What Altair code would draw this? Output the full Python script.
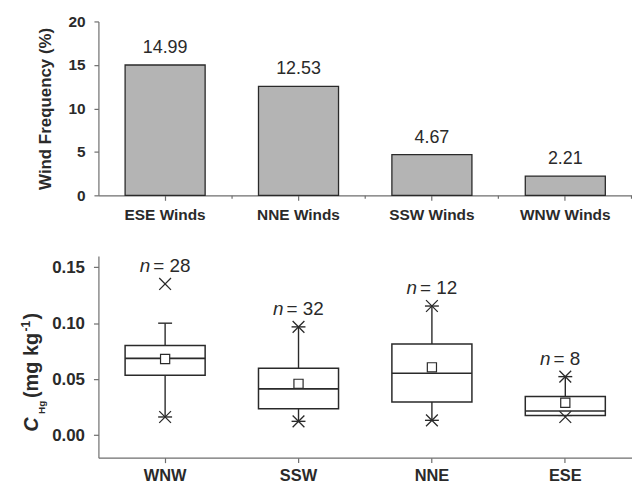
import altair as alt
import pandas as pd

# ---------------- data ----------------
wind_dirs = ["ESE Winds", "NNE Winds", "SSW Winds", "WNW Winds"]
wind_freq = [14.99, 12.53, 4.67, 2.21]

box_dirs = ["WNW", "SSW", "NNE", "ESE"]
n_counts = [28, 32, 12, 8]
q1_vals = [0.0535, 0.0237, 0.0296, 0.0177]
median_vals = [0.0686, 0.0414, 0.0553, 0.0216]
q3_vals = [0.0800, 0.0597, 0.0814, 0.0346]
mean_vals = [0.0680, 0.0459, 0.0606, 0.0290]
whisker_low = [0.0163, 0.0124, 0.0133, 0.0177]
whisker_high = [0.1000, 0.0967, 0.1153, 0.0523]
marker_low = [0.0163, 0.0124, 0.0133, 0.0163]
marker_high = [0.1350, 0.0967, 0.1153, 0.0523]

freq_ticks = [0, 2.5, 5, 7.5, 10, 12.5, 15, 17.5, 20]
conc_ticks = [0, 0.025, 0.05, 0.075, 0.10, 0.125, 0.15]

# ---------------- style ----------------
FONT = "Liberation Sans"
AXIS_GRAY = "#6e6e6e"
INK = "#2a2a2a"

freq_df = pd.DataFrame({"dir": wind_dirs, "freq": wind_freq})
box_df = pd.DataFrame({
    "dir": box_dirs, "n": n_counts,
    "q1": q1_vals, "med": median_vals, "q3": q3_vals, "mean": mean_vals,
    "wlo": whisker_low, "whi": whisker_high,
    "mlo": marker_low, "mhi": marker_high,
})
box_df["nlabel"] = ["= " + str(v) for v in n_counts]

band_top = alt.Scale(paddingInner=0.4, paddingOuter=0.2)
band_bot = alt.Scale(paddingInner=0.4, paddingOuter=0.2)

# ---------------- top panel ----------------
x_top_axis = alt.Axis(
    title=None, orient="bottom", labelFont=FONT, labelFontSize=15.5, labelFontWeight="bold",
    labelColor=INK, labelAngle=0, labelPadding=7, tickSize=5, tickWidth=1.2,
    domainColor=AXIS_GRAY, tickColor=AXIS_GRAY, domainWidth=1.2,
)
y_top_axis = alt.Axis(
    title="Wind Frequency (%)", titleFont=FONT, titleFontSize=17, titleFontWeight="bold",
    titleColor=INK, titleAngle=270, titleAlign="center", titleBaseline="middle",
    titleX=-53, titleY=87.5,
    values=freq_ticks, labelExpr="datum.value % 5 === 0 ? datum.label : ''",
    labelFont=FONT, labelFontSize=15.5, labelFontWeight="bold", labelColor=INK,
    labelPadding=9,
    tickSize={"condition": {"test": "datum.value % 5 === 0", "value": 4.5}, "value": 2.5},
    tickWidth=1.2, tickColor=AXIS_GRAY, domainColor=AXIS_GRAY, domainWidth=1.2,
)

bars = alt.Chart(freq_df).mark_bar(fill="#b4b4b4", stroke=INK, strokeWidth=1.3).encode(
    x=alt.X("dir:N", sort=wind_dirs, scale=band_top, axis=x_top_axis),
    y=alt.Y("freq:Q", scale=alt.Scale(domain=[0, 20], nice=False), axis=y_top_axis),
)
bar_labels = alt.Chart(freq_df).mark_text(
    dy=-17, fontSize=18, font=FONT, color=INK, baseline="middle"
).encode(
    x=alt.X("dir:N", sort=wind_dirs, axis=None),
    y=alt.Y("freq:Q"),
    text=alt.Text("freq:Q", format=".2f"),
)
minor_x = alt.Chart(freq_df).mark_point(opacity=0).encode(
    x=alt.X("dir:N", sort=wind_dirs, axis=alt.Axis(
        orient="bottom", title=None, labels=False, domain=False, tickSize=3,
        tickWidth=1.2, tickColor=AXIS_GRAY, bandPosition=1.3333)),
)

top = alt.layer(bars, bar_labels, minor_x).resolve_axis(x="independent").properties(
    width=537, height=175
)

# ---------------- bottom panel ----------------
x_bot = alt.X("dir:N", sort=box_dirs, scale=band_bot, axis=alt.Axis(
    title=None, labelFont=FONT, labelFontSize=16.5, labelFontWeight="bold", labelColor=INK,
    labelAngle=0, labelPadding=5.5, tickSize=5, tickWidth=1.2,
    domainColor=AXIS_GRAY, tickColor=AXIS_GRAY, domainWidth=1.2))
y_scale = alt.Scale(domain=[-0.02, 0.16], nice=False, zero=False)
y_bot_axis = alt.Axis(
    title=None, values=conc_ticks,
    labelExpr="round(datum.value * 1000) % 50 === 0 ? format(datum.value, '.2f') : ''",
    labelFont=FONT, labelFontSize=17, labelFontWeight="bold", labelColor=INK, labelPadding=9,
    tickSize={"condition": {"test": "round(datum.value * 1000) % 50 === 0", "value": 5},
              "value": 2.5},
    tickWidth=1.2, tickColor=AXIS_GRAY, domainColor=AXIS_GRAY, domainWidth=1.2,
)

base = alt.Chart(box_df)
xb = alt.X("dir:N", sort=box_dirs)

whisk_lo = base.mark_rule(color=INK, strokeWidth=1.4).encode(
    x=x_bot, y=alt.Y("wlo:Q", scale=y_scale, axis=y_bot_axis), y2="q1:Q")
whisk_hi = base.mark_rule(color=INK, strokeWidth=1.4).encode(x=xb, y="q3:Q", y2="whi:Q")
caps_lo = base.mark_tick(color=INK, thickness=1.4, size=14, opacity=1).encode(x=xb, y="wlo:Q")
caps_hi = base.mark_tick(color=INK, thickness=1.4, size=14, opacity=1).encode(x=xb, y="whi:Q")
boxes = base.mark_bar(fill="white", stroke=INK, strokeWidth=1.5).encode(x=xb, y="q1:Q", y2="q3:Q")
medians = base.mark_tick(color=INK, thickness=1.6, size=80.5, opacity=1).encode(x=xb, y="med:Q")
xshape = "M-1,-1L1,1M1,-1L-1,1"
mk_lo = base.mark_point(shape=xshape, filled=False, size=140, color=INK, strokeWidth=1.3,
                        opacity=1).encode(x=xb, y="mlo:Q")
mk_hi = base.mark_point(shape=xshape, filled=False, size=140, color=INK, strokeWidth=1.3,
                        opacity=1).encode(x=xb, y="mhi:Q")
means = base.mark_point(shape="square", filled=True, fill="white", stroke=INK, strokeWidth=1.2,
                        size=85, opacity=1).encode(x=xb, y="mean:Q")
n_it = base.mark_text(text="n", font=FONT, fontSize=19, fontStyle="italic", color=INK,
                      align="right", baseline="middle", dx=-15, dy=-18).encode(x=xb, y="mhi:Q")
n_eq = base.mark_text(font=FONT, fontSize=19, color=INK, align="left", baseline="middle",
                      dx=-12, dy=-18).encode(x=xb, y="mhi:Q", text="nlabel:N")

# y-axis title built from parts: C_Hg (mg kg^-1)
def title_part(txt, xpos, ypos, size, style="normal"):
    return alt.Chart(pd.DataFrame({"t": [txt]})).mark_text(
        font=FONT, fontSize=size, fontWeight="bold", fontStyle=style, color=INK,
        angle=270, align="left", baseline="alphabetic"
    ).encode(text="t:N", x=alt.value(xpos), y=alt.value(ypos))

t_c = title_part("C", -61, 177, 20, "italic")
t_hg = title_part("Hg", -54, 159, 10)
t_unit = title_part("(mg kg", -61, 143, 20)
t_sup = title_part("-1", -69, 76, 12)
t_close = title_part(")", -61, 64, 20)

bottom = alt.layer(
    whisk_lo, whisk_hi, caps_lo, caps_hi, boxes, medians, mk_lo, mk_hi, means, n_it, n_eq,
    t_c, t_hg, t_unit, t_sup, t_close,
).properties(width=537, height=203)

chart = alt.vconcat(top, bottom, spacing=33).properties(
    padding={"left": 12, "top": 5, "right": 0, "bottom": 0}
).configure_view(stroke=None).configure_axis(grid=False)

chart.save("out.html", embed_options={"renderer": "svg", "actions": False})
